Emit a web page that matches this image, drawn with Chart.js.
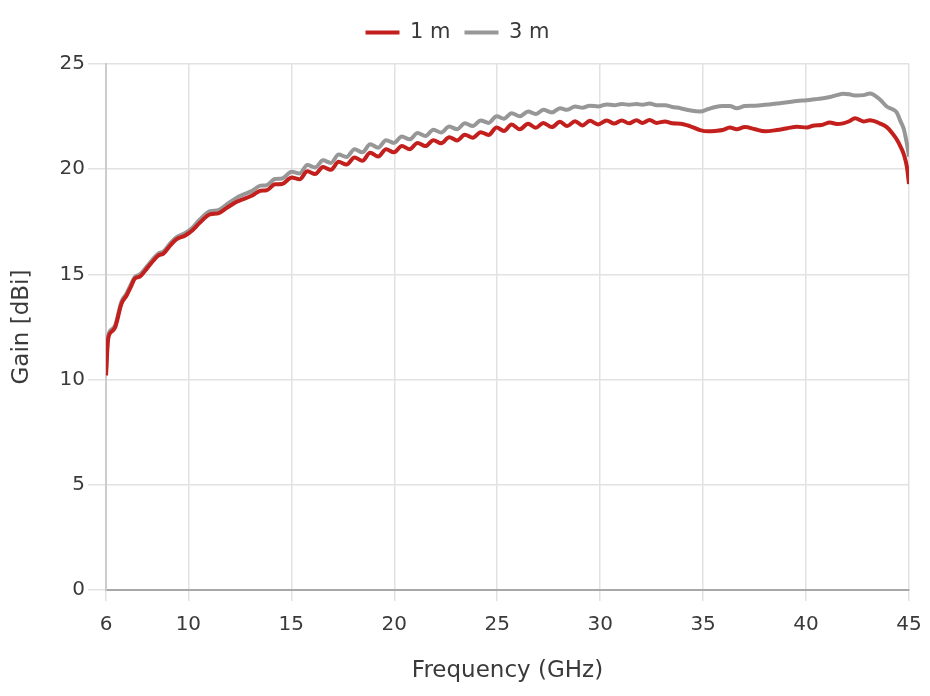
<!DOCTYPE html>
<html>
<head>
<meta charset="utf-8">
<script src="https://cdn.jsdelivr.net/npm/chart.js@4"></script>
<style>
  html, body { margin: 0; padding: 0; background: #fff; }
  #wrap { width: 930px; height: 696px; }
</style>
</head>
<body>
<div id="wrap"><canvas id="gainChart" width="930" height="696"></canvas></div>
<script>
// frequency samples (GHz), shared by both series
const freq = [
  6.0, 6.1, 6.3, 6.45, 6.75, 7.0, 7.2, 7.4, 7.65, 8.0, 8.3, 8.55, 8.8, 9.1, 9.4, 9.85,
  10.2, 10.55, 11.05, 11.45, 11.85, 12.35, 12.6, 13.1, 13.5, 13.8, 14.2, 14.55,
  15.02, 15.4, 15.78, 16.16, 16.54, 16.92, 17.3, 17.68, 18.07, 18.45, 18.83, 19.22,
  19.6, 19.98, 20.37, 20.75, 21.13, 21.52, 21.9, 22.28, 22.67, 23.05, 23.43, 23.82,
  24.2, 24.58, 24.97, 25.33, 25.7, 26.1, 26.5, 26.87, 27.24, 27.65, 28.05, 28.4,
  28.78, 29.14, 29.5, 29.9, 30.32, 30.68, 31.05, 31.4, 31.77, 32.05, 32.4, 32.75,
  33.15, 33.5, 33.9, 34.35, 34.85, 35.25, 35.6, 35.95, 36.3, 36.63, 37.03, 37.52,
  38.0, 38.57, 39.1, 39.55, 40.03, 40.4, 40.75, 41.16, 41.5, 41.8, 42.1, 42.38,
  42.79, 43.1, 43.6, 43.92, 44.2, 44.4, 44.6, 44.75, 44.9, 45.0
];

// gain at 1 m (dBi)
const gain1m = [
  10.2, 11.9, 12.3, 12.5, 13.6, 14.0, 14.4, 14.8, 14.9, 15.3, 15.65, 15.9, 16.0, 16.35, 16.65, 16.85,
  17.1, 17.45, 17.85, 17.9, 18.15, 18.45, 18.55, 18.75, 18.98, 19.0, 19.28, 19.3,
  19.6, 19.52, 19.9, 19.77, 20.1, 19.97, 20.35, 20.22, 20.56, 20.4, 20.78, 20.6,
  20.95, 20.8, 21.1, 20.95, 21.25, 21.1, 21.38, 21.23, 21.52, 21.37, 21.64, 21.5,
  21.76, 21.63, 21.98, 21.82, 22.12, 21.9, 22.16, 21.97, 22.2, 22.0, 22.25, 22.05,
  22.28, 22.08, 22.3, 22.13, 22.32, 22.17, 22.32, 22.18, 22.33, 22.2, 22.34, 22.2,
  22.27, 22.18, 22.16, 22.05, 21.86, 21.8, 21.82, 21.86, 21.98, 21.9, 22.0, 21.9,
  21.8, 21.86, 21.95, 22.02, 21.98, 22.08, 22.1, 22.22, 22.15, 22.18, 22.28, 22.42,
  22.27, 22.33, 22.17, 22.0, 21.7, 21.42, 21.05, 20.7, 20.1, 19.3
];

// gain at 3 m (dBi)
const gain3m = [
  10.4, 12.05, 12.4, 12.6, 13.7, 14.1, 14.5, 14.88, 15.0, 15.4, 15.75, 16.0, 16.1, 16.45, 16.75, 16.97,
  17.22, 17.6, 18.0, 18.05, 18.32, 18.65, 18.77, 18.97, 19.22, 19.24, 19.53, 19.56,
  19.88, 19.8, 20.2, 20.08, 20.42, 20.3, 20.7, 20.58, 20.95, 20.8, 21.18, 21.02,
  21.38, 21.25, 21.55, 21.42, 21.72, 21.58, 21.88, 21.74, 22.03, 21.9, 22.18, 22.05,
  22.32, 22.2, 22.52, 22.4, 22.66, 22.52, 22.74, 22.62, 22.82, 22.7, 22.9, 22.82,
  22.98, 22.92, 23.02, 22.98, 23.08, 23.04, 23.1, 23.06, 23.1, 23.06, 23.12, 23.04,
  23.04, 22.96, 22.9, 22.8, 22.74, 22.86, 22.96, 23.0, 23.0, 22.9, 23.0, 23.02,
  23.06, 23.12, 23.18, 23.24, 23.28, 23.32, 23.36, 23.43, 23.52, 23.59, 23.56, 23.5,
  23.52, 23.6, 23.3, 22.98, 22.85, 22.7, 22.25, 21.9, 21.2, 20.6
];

const xTicks = [6, 10, 15, 20, 25, 30, 35, 40, 45];
const seriesNames = ["1 m", "3 m"];
const seriesColors = ["#c21f1d", "#979797"];

const toPoints = (ys) => freq.map((f, i) => ({ x: f, y: ys[i] }));

Chart.defaults.font.family = "'DejaVu Sans', sans-serif";
Chart.defaults.font.size = 20;
Chart.defaults.color = "#3a3a3a";

// leaves some extra room under the legend row
const legendGap = {
    id: "legendGap",
    afterInit(chart) {
        const legend = chart.legend;
        if (!legend) return;
        const baseFit = legend.fit;
        legend.fit = function () {
            baseFit.call(this);
            this.height += 11;
        };
    }
};

const ctx = document.getElementById("gainChart").getContext("2d");

new Chart(ctx, {
    type: "line",
    data: {
        datasets: [gain1m, gain3m].map((ys, i) => ({
            label: seriesNames[i],
            data: toPoints(ys),
            borderColor: seriesColors[i],
            backgroundColor: seriesColors[i],
            borderWidth: 4,
            pointRadius: 0,
            cubicInterpolationMode: "monotone",
            fill: false
        }))
    },
    options: {
        responsive: false,
        animation: false,
        layout: {
            padding: { left: 6, right: 21, top: 8, bottom: 10 }
        },
        scales: {
            x: {
                type: "linear",
                min: 6,
                max: 45,
                afterBuildTicks: (axis) => {
                    axis.ticks = xTicks.map(v => ({ value: v }));
                },
                afterFit: (scale) => {
                    scale.height = 96;
                    scale.paddingRight = 0;
                    scale.paddingLeft = 0;
                },
                grid: {
                    color: "#e2e2e2",
                    lineWidth: 1.5,
                    tickLength: 11,
                    tickColor: "#e2e2e2"
                },
                border: { color: "#a8a8a8", width: 2 },
                ticks: { padding: 12, maxRotation: 0 },
                title: {
                    display: true,
                    text: "Frequency (GHz)",
                    font: { size: 23 },
                    padding: { top: 0, bottom: 1 }
                }
            },
            y: {
                min: 0,
                max: 25,
                afterFit: (scale) => { scale.width = 100; },
                ticks: { stepSize: 5, padding: 3 },
                grid: {
                    color: "#e2e2e2",
                    lineWidth: 1.5,
                    tickLength: 18,
                    tickColor: "#e2e2e2"
                },
                border: { color: "#cccccc", width: 2 },
                title: {
                    display: true,
                    text: "Gain [dBi]",
                    font: { size: 23 },
                    padding: { top: 2, bottom: 0 }
                }
            }
        },
        plugins: {
            legend: {
                position: "top",
                labels: {
                    usePointStyle: true,
                    pointStyle: "line",
                    pointStyleWidth: 34,
                    padding: 14,
                    font: { size: 21 }
                }
            },
            tooltip: { enabled: false }
        }
    },
    plugins: [legendGap]
});
</script>
</body>
</html>
